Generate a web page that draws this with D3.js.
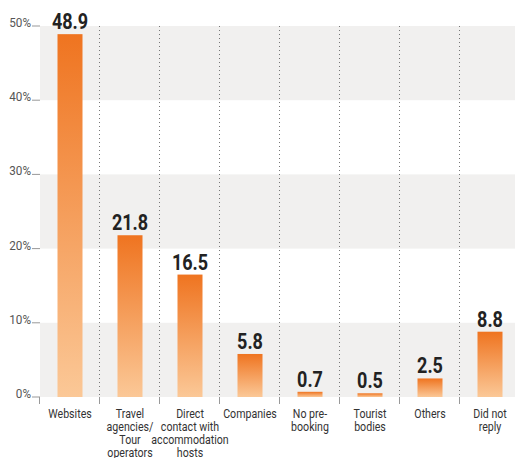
<!DOCTYPE html>
<html><head><meta charset="utf-8">
<script src="https://cdn.jsdelivr.net/npm/d3@7"></script>
<style>body{margin:0;background:#fff}svg{display:block}</style>
</head><body><svg id="c" width="515" height="458"></svg>
<script>
const categories = [["Websites"],["Travel","agencies/","Tour","operators"],["Direct","contact with","accommodation","hosts"],["Companies"],["No pre-","booking"],["Tourist","bodies"],["Others"],["Did not","reply"]];
const values = [48.9,21.8,16.5,5.8,0.7,0.5,2.5,8.8];
const yTicks = [0,10,20,30,40,50];
const bands = [[0,10],[20,30],[40,50]];

(function(){
const svg = d3.select("#c");
const pLeft = 40, pRight = 520, pTop = 26, pBottom = 397;
const x = d3.scaleBand().domain(d3.range(categories.length)).range([pLeft,pRight]).paddingInner(0).paddingOuter(0);
const y = d3.scaleLinear().domain([0,50]).range([pBottom, pTop]);
const FONT = "Roboto,'DejaVu Sans Condensed',sans-serif";

const defs = svg.append("defs");
const g = defs.append("linearGradient").attr("id","bg").attr("x1",0).attr("y1",0).attr("x2",0).attr("y2",1);
g.append("stop").attr("offset","0%").attr("stop-color","#ef7420");
g.append("stop").attr("offset","100%").attr("stop-color","#fbc897");

svg.selectAll("rect.band").data(bands).enter().append("rect")
 .attr("x",pLeft).attr("width",515-pLeft)
 .attr("y",d=>y(d[1])).attr("height",d=>y(d[0])-y(d[1]))
 .attr("fill","#f1f0ef");

svg.selectAll("line.sep").data(d3.range(1,categories.length)).enter().append("line")
 .attr("x1",d=>x(d)-0.5).attr("x2",d=>x(d)-0.5).attr("y1",y(50)).attr("y2",pBottom)
 .attr("stroke","#777").attr("stroke-width",1).attr("stroke-dasharray","1,3");

const ya = svg.append("g");
yTicks.forEach(t=>{
  ya.append("line").attr("x1",32).attr("x2",pLeft).attr("y1",y(t)).attr("y2",y(t)).attr("stroke","#999").attr("stroke-width",1);
  ya.append("g").attr("transform",`translate(31,${y(t)+1}) scale(0.9,1)`)
   .append("text").attr("text-anchor","end")
   .attr("font-family",FONT).attr("font-size",13).attr("fill","#555").text(t+"%");
});
svg.selectAll("line.bt").data(d3.range(0,categories.length)).enter().append("line")
 .attr("x1",d=>x(d)-0.5).attr("x2",d=>x(d)-0.5).attr("y1",pBottom).attr("y2",pBottom+7)
 .attr("stroke","#999").attr("stroke-width",1);

const bw = 25;
svg.selectAll("rect.bar").data(values).enter().append("rect")
 .attr("x",(d,i)=>x(i)+x.bandwidth()/2-bw/2).attr("width",bw)
 .attr("y",d=>y(d)).attr("height",d=>pBottom-y(d))
 .attr("fill","url(#bg)");

svg.selectAll("g.val").data(values).enter().append("g")
 .attr("transform",(d,i)=>`translate(${x(i)+x.bandwidth()/2},${y(d)-5}) scale(0.8,1)`)
 .append("text").attr("text-anchor","middle")
 .attr("font-family",FONT).attr("font-weight","bold").attr("font-size",22.5).attr("fill","#222")
 .text(d=>d.toFixed(1));

categories.forEach((lines,i)=>{
  const t = svg.append("g").attr("transform",`translate(${x(i)+x.bandwidth()/2},418) scale(0.85,1)`)
   .append("text").attr("text-anchor","middle")
   .attr("font-family",FONT).attr("font-size",12.5).attr("fill","#333");
  lines.forEach((l,j)=>{
    t.append("tspan").attr("x",0).attr("y",j*13).text(l);
  });
});
})();
</script></body></html>
